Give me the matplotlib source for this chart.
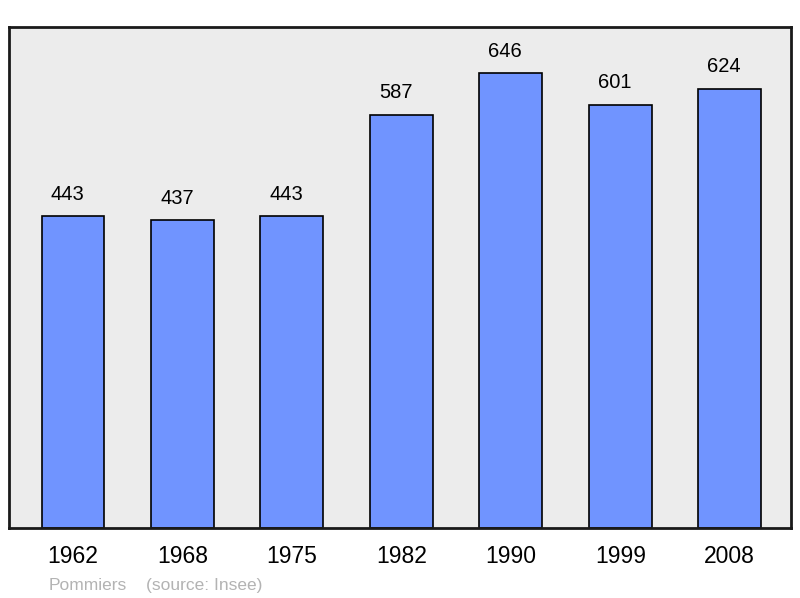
import matplotlib.pyplot as plt
import numpy as np

plt.rcParams['font.family'] = ['Liberation Sans', 'DejaVu Sans']

# Data
years = ['1962', '1968', '1975', '1982', '1990', '1999', '2008']
population = [443, 437, 443, 587, 646, 601, 624]

fig = plt.figure(figsize=(8, 5.98), dpi=100)
ax = fig.add_axes([9 / 800, 70 / 598, 782 / 800, 501 / 598])
ax.set_facecolor('#ececec')

x = np.arange(len(years))
bars = ax.bar(x, population, width=0.575, color='#7094ff', edgecolor='black', linewidth=1.2)
# value labels, sitting a little left of bar centre as in the original
for xi, v in zip(x, population):
    ax.annotate(str(v), (xi, v), xytext=(-4, 9), textcoords='offset points',
                ha='center', va='bottom', fontsize=14.5)

ax.set_xlim(-0.585, 6.56)
ax.set_ylim(0, 711.5)
ax.set_yticks([])
ax.set_xticks(x)
ax.set_xticklabels(years, fontsize=16.5)
ax.tick_params(axis='x', length=0, pad=12)
for s in ax.spines.values():
    s.set_linewidth(2)
    s.set_color('#1a1a1a')

fig.text(49 / 800, 1 - 590 / 598, 'Pommiers', fontsize=12.5, color='#b3b3b3')
fig.text(146 / 800, 1 - 590 / 598, '(source: Insee)', fontsize=12.5, color='#b3b3b3')

fig.savefig('out.png', dpi=100)
